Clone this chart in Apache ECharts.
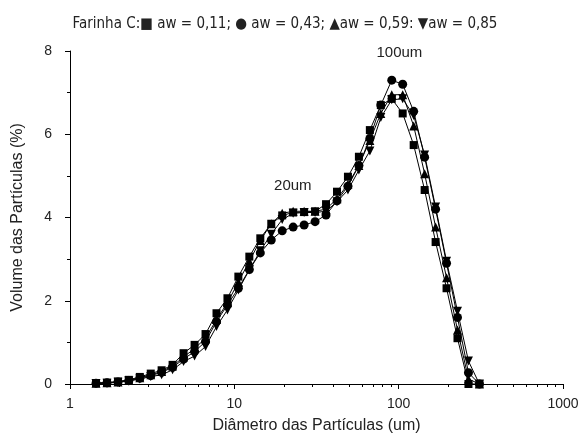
<!DOCTYPE html>
<html lang="pt">
<head>
    <meta charset="utf-8" />
    <script src="https://cdn.jsdelivr.net/npm/echarts@6/dist/echarts.min.js"></script>
</head>
<body style="margin:0">

<div id="view1" style="height: 436px; width: 584px"> </div>

<script>
    // diametro das particulas (um), escala log
    var diam = [1.44, 1.68, 1.96, 2.28, 2.66, 3.10, 3.61, 4.21, 4.91, 5.73, 6.68, 7.79,
        9.08, 10.58, 12.34, 14.39, 16.78, 19.56, 22.80, 26.59, 31.00, 36.14, 42.14, 49.13,
        57.28, 66.78, 77.86, 90.78, 105.8, 123.4, 143.9, 167.8, 195.6, 228.0, 265.9, 310.0];

    // volume (%) para cada aw
    var aw011 = [0.02, 0.03, 0.06, 0.10, 0.17, 0.25, 0.33, 0.46, 0.74, 0.94, 1.20, 1.70,
        2.06, 2.58, 3.06, 3.50, 3.85, 4.05, 4.12, 4.13, 4.15, 4.32, 4.62, 4.98,
        5.46, 6.10, 6.70, 6.85, 6.50, 5.74, 4.66, 3.41, 2.30, 1.10, 0.00, 0.00];
    var aw043 = [0.02, 0.03, 0.05, 0.08, 0.14, 0.20, 0.28, 0.40, 0.60, 0.78, 1.02, 1.50,
        1.90, 2.30, 2.75, 3.15, 3.46, 3.68, 3.77, 3.82, 3.90, 4.06, 4.40, 4.75,
        5.25, 5.90, 6.70, 7.30, 7.20, 6.55, 5.45, 4.20, 2.90, 1.60, 0.27, 0.00];
    var aw059 = [0.02, 0.03, 0.05, 0.09, 0.15, 0.22, 0.30, 0.43, 0.65, 0.85, 1.10, 1.55,
        1.95, 2.45, 2.95, 3.45, 3.85, 4.10, 4.15, 4.15, 4.15, 4.20, 4.45, 4.80,
        5.25, 5.85, 6.50, 6.95, 6.95, 6.20, 5.05, 3.77, 2.55, 1.30, 0.12, 0.00];
    var aw085 = [0.01, 0.02, 0.04, 0.07, 0.12, 0.18, 0.22, 0.34, 0.54, 0.67, 0.90, 1.38,
        1.78, 2.26, 2.74, 3.20, 3.60, 3.95, 4.10, 4.12, 4.12, 4.15, 4.38, 4.66,
        5.14, 5.60, 6.40, 6.83, 6.85, 6.45, 5.50, 4.25, 2.95, 1.75, 0.55, 0.00];

    var serieNames = ["aw = 0,11", "aw = 0,43", "aw = 0,59", "aw = 0,85"];
    var serieData = [aw011, aw043, aw059, aw085];
    var serieSymbols = ["rect", "circle", "triangle", "triangle"];
    var serieRotate = [0, 0, 0, 180];

    // anotacoes: [x, y, texto]
    var notes = [[22.7, 4.76, "20um"], [101, 7.96, "100um"]];

    var txt = "#222";
    var font = "'Liberation Sans', Arial, sans-serif";

    window.onload = function(){
        var series = serieData.map(function(d, i){
            return {
                name: serieNames[i],
                type: "line",
                data: d.map(function(v, j){ return [diam[j], v]; }),
                symbol: serieSymbols[i],
                symbolRotate: serieRotate[i],
                symbolSize: i == 0 ? 8 : 9,
                showAllSymbol: true,
                lineStyle: {color: "#000", width: 1},
                itemStyle: {color: "#000"},
                z: 2 + i
            };
        });

        series[0].markPoint = {
            symbolSize: 0,
            label: {show: true, position: "inside", color: txt, fontSize: 15, fontFamily: font,
                formatter: function(p){ return p.name; }},
            data: notes.map(function(n){ return {name: n[2], coord: [n[0], n[1]]}; })
        };

        var option = {
            animation: false,
            title: {
                text: "Farinha C:\u25A0 aw = 0,11; \u25CF aw = 0,43; \u25B2aw = 0,59: \u25BCaw = 0,85",
                left: 285, top: 17, textAlign: "center", padding: 0,
                textStyle: {fontSize: 15, fontWeight: "normal", color: txt,
                    fontFamily: "'Liberation Sans Narrow', 'DejaVu Sans Condensed', sans-serif"}
            },
            grid: {left: 70, right: 21, top: 51, bottom: 52, outerBoundsMode: "none"},
            xAxis: {
                type: "log", logBase: 10, min: 1, max: 1000,
                name: "Diâmetro das Partículas (um)", nameLocation: "middle", nameGap: 34,
                nameTextStyle: {fontSize: 16, color: txt, fontFamily: font},
                axisLine: {lineStyle: {color: "#000", width: 1}},
                axisTick: {length: 5, lineStyle: {color: "#000"}},
                minorTick: {show: true, splitNumber: 9, length: 3, lineStyle: {color: "#000"}},
                axisLabel: {fontSize: 14, color: txt, fontFamily: font, margin: 13,
                    formatter: function(v){ return String(v); }},
                splitLine: {show: false}
            },
            yAxis: {
                type: "value", min: 0, max: 8, interval: 2,
                name: "Volume das Partículas (%)", nameLocation: "middle", nameGap: 44,
                nameTextStyle: {fontSize: 16, color: txt, fontFamily: font},
                axisLine: {show: true, lineStyle: {color: "#000", width: 1}},
                axisTick: {show: true, length: 5, lineStyle: {color: "#000"}},
                minorTick: {show: true, splitNumber: 2, length: 3, lineStyle: {color: "#000"}},
                axisLabel: {fontSize: 14, color: txt, fontFamily: font, margin: 18},
                splitLine: {show: false}
            },
            series: series
        };

        var myChart = echarts.init(document.getElementById("view1"));
        myChart.setOption(option);
    };
</script>
</body>
</html>
